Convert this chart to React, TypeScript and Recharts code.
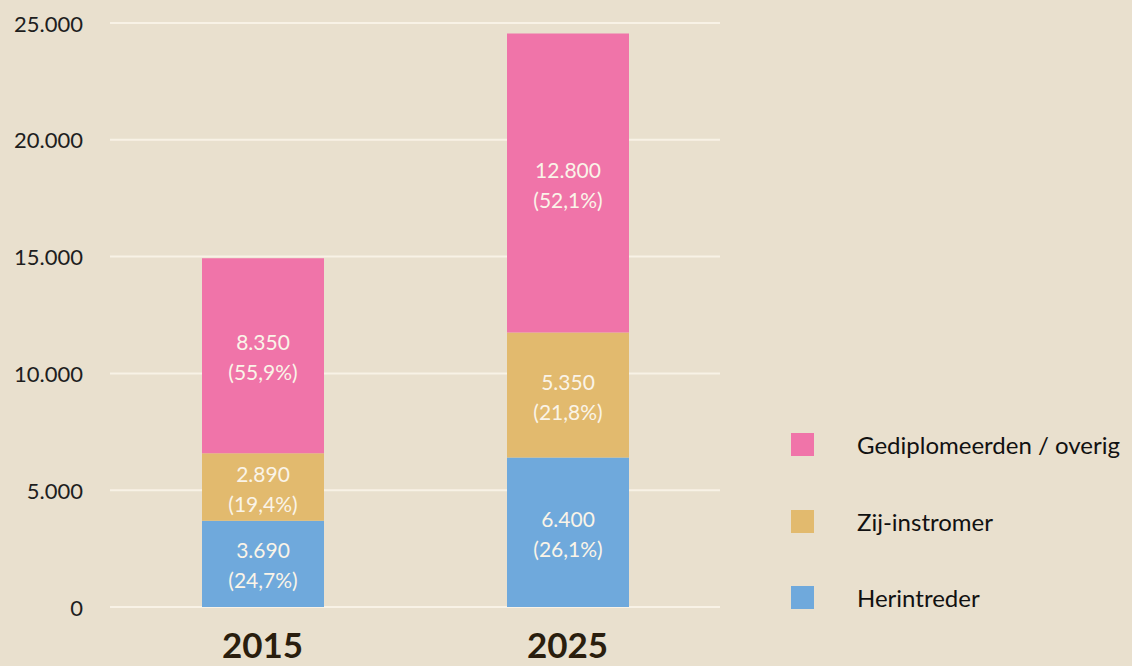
import React from 'react';
import { BarChart, Bar, XAxis, YAxis, CartesianGrid, LabelList } from 'recharts';

const years = ['2015', '2025'];
const herintreder = [3690, 6400];
const zijInstromer = [2890, 5350];
const gediplomeerden = [8350, 12800];
const herintrederPct = ['24,7%', '26,1%'];
const zijInstromerPct = ['19,4%', '21,8%'];
const gediplomeerdenPct = ['55,9%', '52,1%'];
const yTicks = [0, 5000, 10000, 15000, 20000, 25000];

const seriesNames = {
  herintreder: 'Herintreder',
  zij: 'Zij-instromer',
  gedip: 'Gediplomeerden / overig',
};

const colors = {
  herintreder: '#6FA9DC',
  zij: '#E2BA6E',
  gedip: '#F074A9',
};

const data = years.map((y, i) => ({
  year: y,
  herintreder: herintreder[i],
  zij: zijInstromer[i],
  gedip: gediplomeerden[i],
}));

const pctMap: Record<string, string[]> = {
  herintreder: herintrederPct,
  zij: zijInstromerPct,
  gedip: gediplomeerdenPct,
};

const fmt = (v: number) => String(v).replace(/\B(?=(\d{3})+(?!\d))/g, '.');

const FONT = 'Lato, "Open Sans", sans-serif';

const YTick = (props: any) => {
  const { x, y, payload } = props;
  return (
    <text x={x} y={y} textAnchor="end" dominantBaseline="central" fontFamily={FONT} fontSize={22} fill="#1E1E1E">
      {fmt(payload.value)}
    </text>
  );
};

const XTick = (props: any) => {
  const { x, y, payload } = props;
  return (
    <text x={x} y={y + 43} textAnchor="middle" fontFamily={FONT} fontSize={35} fontWeight={700} fill="#2A1E0E">
      {payload.value}
    </text>
  );
};

const makeLabel = (key: string) => (props: any) => {
  const { x, y, width, height, value, index } = props;
  const cx = Number(x) + Number(width) / 2;
  const cy = Number(y) + Number(height) / 2;
  return (
    <g>
      <text x={cx} y={cy - 14} textAnchor="middle" dominantBaseline="central" fontFamily={FONT} fontSize={21} fill="#FAF4E8">
        {fmt(value)}
      </text>
      <text x={cx} y={cy + 16} textAnchor="middle" dominantBaseline="central" fontFamily={FONT} fontSize={21} fill="#FAF4E8">
        ({pctMap[key][index]})
      </text>
    </g>
  );
};

const legendOrder = ['gedip', 'zij', 'herintreder'] as const;

export default function App() {
  return (
    <div style={{ position: 'absolute', left: 0, top: 0, width: 1132, height: 666, background: '#E9E0CE', overflow: 'hidden' }}>
      <BarChart width={1132} height={666} data={data} margin={{ top: 23, right: 412, bottom: 0, left: 0 }} barSize={122}>
        <CartesianGrid vertical={false} stroke="#F8F2E6" strokeWidth={2} />
        <XAxis dataKey="year" axisLine={false} tickLine={false} height={59} tick={<XTick />} interval={0} />
        <YAxis
          width={110}
          domain={[0, 25000]}
          ticks={yTicks}
          axisLine={false}
          tickLine={false}
          tickMargin={21}
          tick={<YTick />}
          interval={0}
        />
        <Bar dataKey="herintreder" name={seriesNames.herintreder} stackId="a" fill={colors.herintreder} isAnimationActive={false}>
          <LabelList dataKey="herintreder" content={makeLabel('herintreder')} />
        </Bar>
        <Bar dataKey="zij" name={seriesNames.zij} stackId="a" fill={colors.zij} isAnimationActive={false}>
          <LabelList dataKey="zij" content={makeLabel('zij')} />
        </Bar>
        <Bar dataKey="gedip" name={seriesNames.gedip} stackId="a" fill={colors.gedip} isAnimationActive={false}>
          <LabelList dataKey="gedip" content={makeLabel('gedip')} />
        </Bar>
      </BarChart>
      <div style={{ position: 'absolute', left: 791, top: 433, fontFamily: FONT }}>
        {legendOrder.map((k, i) => (
          <div key={k} style={{ display: 'flex', alignItems: 'center', height: 23, marginBottom: i < 2 ? 53.5 : 0 }}>
            <div style={{ width: 23, height: 23, background: colors[k] }} />
            <span style={{ marginLeft: 43, fontSize: 24, color: '#111', whiteSpace: 'nowrap', lineHeight: '23px' }}>
              {seriesNames[k]}
            </span>
          </div>
        ))}
      </div>
    </div>
  );
}
